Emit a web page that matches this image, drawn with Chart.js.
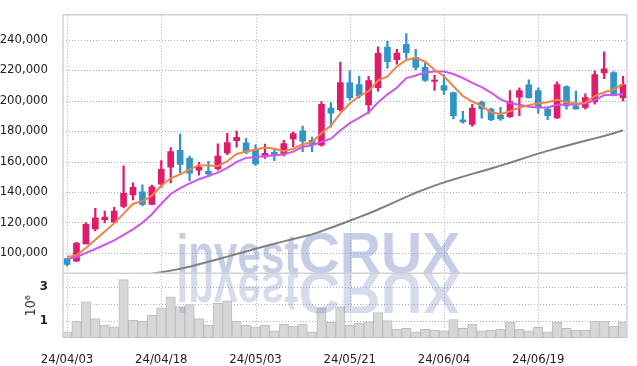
<!DOCTYPE html>
<html>
<head>
<meta charset="utf-8">
<script src="https://cdn.jsdelivr.net/npm/chart.js@4"></script>
<style>
  html, body { margin: 0; padding: 0; background: #fff; }
</style>
</head>
<body>
<canvas id="chart" width="637" height="366"></canvas>
<script>
// ── DATA ────────────────────────────────────────────────────────────────────
const dates = [
  '24/04/03','24/04/04','24/04/05','24/04/08','24/04/09','24/04/11','24/04/12','24/04/15','24/04/16','24/04/17',
  '24/04/18','24/04/19','24/04/22','24/04/23','24/04/24','24/04/25','24/04/26','24/04/29','24/04/30','24/05/02',
  '24/05/03','24/05/07','24/05/08','24/05/09','24/05/10','24/05/13','24/05/14','24/05/16','24/05/17','24/05/20',
  '24/05/21','24/05/22','24/05/23','24/05/24','24/05/27','24/05/28','24/05/29','24/05/30','24/05/31','24/06/03',
  '24/06/04','24/06/05','24/06/07','24/06/10','24/06/11','24/06/12','24/06/13','24/06/14','24/06/17','24/06/18',
  '24/06/19','24/06/20','24/06/21','24/06/24','24/06/25','24/06/26','24/06/27','24/06/28','24/07/01','24/07/02'
];

const opens = [
  96300, 94600, 106000, 115700, 121800, 120200, 130500, 138100, 140100, 131900,
  145200, 156300, 167300, 162100, 154400, 153500, 155300, 165600, 173700, 172300,
  168000, 163000, 166000, 164900, 174800, 180200, 173900, 170700, 195000, 194000,
  211800, 210500, 197200, 208400, 235000, 226800, 237000, 228400, 221900, 212500,
  209900, 205200, 187300, 184300, 198900, 194400, 190500, 189400, 202300, 210300,
  206600, 194400, 188600, 209200, 196500, 195500, 199100, 218100, 218300, 201900
];
const highs = [
  96300, 107000, 119700, 129300, 127400, 130000, 157200, 146000, 144700, 144500,
  160600, 169200, 178000, 163500, 159600, 160200, 171600, 178500, 180000, 175300,
  171000, 171400, 168000, 173900, 179400, 183200, 176100, 199400, 198700, 225200,
  219500, 215900, 215900, 235200, 238900, 233700, 243900, 233700, 224500, 216500,
  217000, 205500, 192900, 197600, 199700, 195000, 195500, 206600, 208400, 213700,
  208400, 195500, 212300, 209700, 206200, 204500, 219500, 232000, 219100, 215900
];
const lows = [
  91500, 94500, 106000, 114400, 119700, 119700, 129500, 134800, 130900, 131500,
  143000, 146000, 152500, 147300, 151000, 150000, 154400, 164500, 169500, 165200,
  157500, 162100, 160600, 163600, 169700, 166500, 166500, 170100, 182600, 193000,
  200200, 201500, 191600, 206200, 221300, 223900, 227700, 220200, 212600, 206600,
  204100, 187900, 185200, 183000, 188400, 186800, 187000, 189000, 190100, 201500,
  191600, 187500, 188200, 194400, 194300, 194400, 197600, 214400, 203000, 199700
];
const closes = [
  92500, 106500, 118700, 123000, 123500, 127400, 139100, 143100, 131900, 143400,
  154800, 166500, 158100, 152300, 156300, 151800, 163500, 172500, 175900, 166200,
  158400, 165400, 164700, 171800, 178300, 173300, 171200, 197600, 191800, 211800,
  201900, 203000, 213100, 231000, 225500, 231200, 231400, 221700, 213300, 213100,
  206800, 190100, 186000, 195000, 194600, 187500, 187900, 199400, 206600, 201900,
  195500, 190100, 210500, 196500, 194600, 201900, 217000, 220800, 203600, 210500
];

// moving averages
const ma5 = [
  97400, 98500, 103200, 108600, 114000, 119400, 125800, 132300, 134000, 137600,
  144100, 149000, 151600, 154800, 157600, 157400, 157000, 160200, 165000, 166600,
  167900, 169200, 168400, 166800, 168400, 171400, 172600, 178700, 183600, 191600,
  198100, 203000, 206200, 213100, 215900, 222300, 226600, 228100, 225500, 220200,
  216000, 209400, 203000, 199400, 196500, 192300, 191200, 192900, 195500, 197000,
  198300, 198900, 200600, 199100, 198100, 198500, 203000, 205500, 207300, 211000
];
const ma20 = [
  96100, 97200, 100000, 102600, 105400, 108200, 111800, 115500, 119800, 125400,
  132300, 138700, 142600, 145600, 148400, 150500, 152700, 155900, 159800, 162400,
  162800, 163600, 163900, 164700, 166500, 169700, 170700, 172900, 175000, 180400,
  185200, 188600, 192300, 198700, 204100, 208400, 214800, 216500, 218500, 219100,
  219100, 217400, 214800, 211600, 208800, 205200, 200800, 198300, 197200, 195900,
  195500, 195500, 197200, 197200, 197600, 198300, 200200, 203600, 203600, 204100
];
const ma120 = [
  76000, 77100, 78200, 79300, 80400, 81500, 82700, 83900, 85100, 86400,
  87300, 88400, 89600, 90900, 92600, 94200, 95900, 97600, 99300, 101000,
  102800, 104400, 106000, 107600, 109200, 110600, 112200, 114300, 116500, 118800,
  121100, 123500, 125900, 128500, 131200, 134000, 136800, 139500, 141900, 144200,
  146300, 148200, 150100, 151900, 153600, 155400, 157300, 159200, 161200, 163200,
  165200, 167000, 168700, 170400, 172000, 173600, 175200, 176800, 178600, 180500
];

// volume, in millions of shares
const volumes = [
  0.36, 0.99, 2.13, 1.14, 0.76, 0.65, 3.43, 1.05, 0.99, 1.33,
  1.77, 2.42, 1.85, 1.96, 1.14, 0.76, 2.04, 2.19, 0.99, 0.74,
  0.66, 0.74, 0.42, 0.82, 0.70, 0.82, 0.36, 1.77, 0.93, 1.85,
  0.74, 0.89, 0.95, 1.49, 1.03, 0.53, 0.57, 0.36, 0.51, 0.47,
  0.42, 1.09, 0.57, 0.82, 0.42, 0.47, 0.53, 0.93, 0.53, 0.42,
  0.63, 0.36, 0.93, 0.57, 0.47, 0.47, 0.99, 0.99, 0.70, 0.95
];

const priceTicks = [100000, 120000, 140000, 160000, 180000, 200000, 220000, 240000];
const volumeTicks = [1, 2, 3];
const dateTicks = [0, 10, 20, 30, 40, 50];

// ── STYLE ───────────────────────────────────────────────────────────────────
const UP = '#e11b6b';
const DOWN = '#2f94c8';
const GRID = '#a9b0cc';
const FONT = '"DejaVu Sans Condensed", "DejaVu Sans", sans-serif';

Chart.defaults.font.family = FONT;
Chart.defaults.color = '#222';

const candleColor = ctx => closes[ctx.dataIndex] >= opens[ctx.dataIndex] ? UP : DOWN;
const pts = arr => arr.map((v, i) => ({ x: i, y: v }));
const fixTicks = list => s => { s.ticks = list.map(v => ({ value: v })); };

// watermark, painted just after the volume bars
const watermark = {
  id: 'watermark',
  afterDatasetDraw(chart, args) {
    if (args.index !== 5) return;
    const ctx = chart.ctx;
    const base = chart.scales.y.bottom;
    const area = chart.chartArea;
    const words = [
      { text: 'invest', font: 'bold 56px "Liberation Sans", sans-serif', w: 122 },
      { text: 'CRUX', font: 'bold 58px "Liberation Sans", sans-serif', w: 162 }
    ];
    const total = words.reduce((s, w) => s + w.w, 0);
    const x0 = chart.width / 2 - total / 2;

    const paint = (flip) => {
      let x = x0;
      words.forEach(w => {
        ctx.font = w.font;
        const m = ctx.measureText(w.text).width;
        ctx.save();
        ctx.translate(x, base);
        ctx.scale(w.w / m, flip ? -1 : 1);
        ctx.fillText(w.text, 0, 0);
        ctx.restore();
        x += w.w;
      });
    };

    ctx.save();
    ctx.beginPath();
    ctx.rect(area.left, area.top, area.right - area.left, area.bottom - area.top);
    ctx.clip();
    ctx.textBaseline = 'alphabetic';
    ctx.fillStyle = 'rgba(120,138,192,0.42)';
    paint(false);
    const g = ctx.createLinearGradient(0, base, 0, base + 44);
    g.addColorStop(0, 'rgba(120,138,192,0.30)');
    g.addColorStop(1, 'rgba(120,138,192,0.0)');
    ctx.fillStyle = g;
    paint(true);
    ctx.restore();
  }
};

// frame, panel separator, and the dotted grid slid in behind everything
const frame = {
  id: 'frame',
  afterDraw(chart) {
    const ctx = chart.ctx;
    const a = chart.chartArea;
    const sx = chart.scales.x, sy = chart.scales.y, sv = chart.scales.yv;
    const sep = sy.bottom;

    ctx.save();
    ctx.globalCompositeOperation = 'destination-over';
    ctx.strokeStyle = GRID;
    ctx.lineWidth = 1;
    ctx.setLineDash([1, 2]);
    ctx.beginPath();
    dateTicks.forEach(v => {
      const px = Math.round(sx.getPixelForValue(v)) + 0.5;
      ctx.moveTo(px, a.top); ctx.lineTo(px, a.bottom);
    });
    priceTicks.forEach(v => {
      const py = Math.round(sy.getPixelForValue(v)) + 0.5;
      ctx.moveTo(a.left, py); ctx.lineTo(a.right, py);
    });
    volumeTicks.forEach(v => {
      const py = Math.round(sv.getPixelForValue(v)) + 0.5;
      ctx.moveTo(a.left, py); ctx.lineTo(a.right, py);
    });
    ctx.stroke();
    ctx.restore();

    ctx.save();
    ctx.strokeStyle = '#d2d2d2';
    ctx.lineWidth = 1.5;
    ctx.beginPath();
    ctx.moveTo(a.left, a.top); ctx.lineTo(a.right, a.top);
    ctx.moveTo(a.right, a.top); ctx.lineTo(a.right, a.bottom);
    ctx.moveTo(a.left, a.top); ctx.lineTo(a.left, a.bottom);
    ctx.moveTo(a.left, sep); ctx.lineTo(a.right, sep);
    ctx.stroke();
    ctx.restore();
  }
};

new Chart(document.getElementById('chart').getContext('2d'), {
  type: 'bar',
  data: {
    datasets: [
      { type: 'line', data: pts(ma5), yAxisID: 'y', borderColor: '#ef8449', borderWidth: 2, pointRadius: 0, order: 0 },
      { type: 'line', data: pts(ma20), yAxisID: 'y', borderColor: '#cf55ec', borderWidth: 2, pointRadius: 0, order: 1 },
      { type: 'line', data: pts(ma120), yAxisID: 'y', borderColor: '#808080', borderWidth: 2, pointRadius: 0, order: 2 },
      {
        data: dates.map((d, i) => ({ x: i, y: [opens[i], closes[i]] })), yAxisID: 'y',
        backgroundColor: candleColor, barThickness: 6, minBarLength: 1.5, grouped: false, borderSkipped: false, order: 3
      },
      {
        data: dates.map((d, i) => ({ x: i, y: [lows[i], highs[i]] })), yAxisID: 'y',
        backgroundColor: candleColor, barThickness: 1.6, grouped: false, borderSkipped: false, order: 4
      },
      {
        data: pts(volumes), yAxisID: 'yv',
        backgroundColor: '#d7d7d7', borderColor: '#bdbdbd', borderWidth: 1, borderSkipped: false,
        barPercentage: 1, categoryPercentage: 1, grouped: false, order: 5
      }
    ]
  },
  options: {
    responsive: false,
    animation: false,
    layout: { padding: { left: 0, top: 9, right: 10, bottom: 0 } },
    plugins: { legend: { display: false }, tooltip: { enabled: false } },
    scales: {
      yv: {
        type: 'linear', position: 'left', stack: 'panels', stackWeight: 1, offset: false,
        min: 0, max: 3.8,
        grid: { display: false },
        border: { display: false },
        ticks: { padding: 7, font: { size: 13, weight: 'bold' }, color: '#222' },
        afterBuildTicks: fixTicks(volumeTicks),
        title: { display: true, text: '10⁶', font: { size: 14 }, color: '#333', padding: { top: 23, bottom: 0 } },
        afterFit: s => { s.width = 63; }
      },
      y: {
        type: 'linear', position: 'left', stack: 'panels', stackWeight: 4, offset: false,
        min: 86600, max: 256300,
        grid: { display: false },
        border: { display: false },
        ticks: { padding: 7, font: { size: 13 }, color: '#222' },
        afterBuildTicks: fixTicks(priceTicks),
        afterFit: s => { s.width = 63; }
      },
      x: {
        type: 'linear', position: 'bottom', offset: false, min: -0.43, max: 59.42,
        grid: { display: false },
        border: { display: false },
        ticks: {
          autoSkip: false, maxRotation: 0, padding: 6, font: { size: 13 }, color: '#222',
          callback: v => dates[v] || ''
        },
        afterBuildTicks: fixTicks(dateTicks),
        afterFit: s => { s.height = 28; }
      }
    }
  },
  plugins: [watermark, frame]
});
</script>
</body>
</html>
